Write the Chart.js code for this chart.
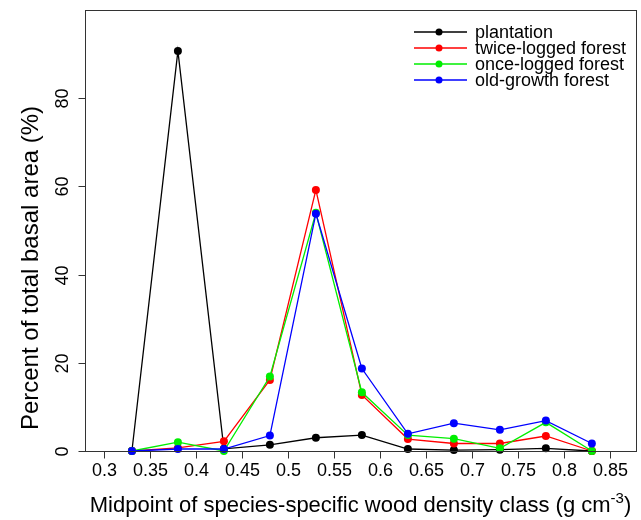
<!DOCTYPE html>
<html>
<head>
<meta charset="utf-8">
<script src="https://cdn.jsdelivr.net/npm/chart.js@4/dist/chart.umd.min.js"></script>
<style>
html,body{margin:0;padding:0;background:#fff;}
canvas{display:block;}
</style>
</head>
<body>
<canvas id="c" width="641" height="520"></canvas>
<script>
// ---- data ----
const densityClasses = [0.33, 0.38, 0.43, 0.48, 0.53, 0.58, 0.63, 0.68, 0.73, 0.78, 0.83];
const plantation   = [0, 90.7, 0.5, 1.4, 3.0, 3.6, 0.45, 0.2, 0.3, 0.6, 0];
const twiceLogged  = [0, 0.7, 2.2, 16.1, 59.2, 12.7, 2.7, 1.7, 1.7, 3.4, 0];
const onceLogged   = [0, 2.0, 0, 16.9, 54.0, 13.3, 3.6, 2.8, 0.6, 6.5, 0];
const oldGrowth    = [0, 0.45, 0.45, 3.5, 53.8, 18.7, 3.9, 6.3, 4.8, 6.9, 1.7];
const seriesNames  = ["plantation", "twice-logged forest", "once-logged forest", "old-growth forest"];
const seriesColors = ["#000000", "#ff0000", "#00ee00", "#0000ff"];
const xTickLabels  = ["0.3","0.35","0.4","0.45","0.5","0.55","0.6","0.65","0.7","0.75","0.8","0.85"];
const yTickLabels  = ["0","20","40","60","80"];
const xTitle = "Midpoint of species-specific wood density class (g cm";
const xTitleSup = "-3";
const yTitle = "Percent of total basal area (%)";

const allSeries = [plantation, twiceLogged, onceLogged, oldGrowth];
const datasets = allSeries.map((vals, i) => ({
  label: seriesNames[i],
  data: densityClasses.map((x, j) => ({x: x, y: vals[j]})),
  borderColor: seriesColors[i],
  backgroundColor: seriesColors[i],
  pointBackgroundColor: seriesColors[i],
  pointBorderColor: seriesColors[i],
  pointRadius: 4,
  pointBorderWidth: 0,
  borderWidth: 1.3,
  tension: 0,
  clip: false,
  order: 4 - i
}));

const FONT = '"Liberation Sans", Arial, sans-serif';

const decor = {
  id: 'decor',
  afterDraw(chart) {
    const ctx = chart.ctx;
    const a = chart.chartArea;
    const xs = chart.scales.x, ys = chart.scales.y;
    ctx.save();
    ctx.strokeStyle = '#333';
    ctx.lineWidth = 1;
    // box
    ctx.strokeRect(Math.round(a.left) + 0.5, Math.round(a.top) + 0.5,
                   Math.round(a.right - a.left), Math.round(a.bottom - a.top));
    const bottom = Math.round(a.bottom) + 0.5;
    const left = Math.round(a.left) + 0.5;
    // x ticks
    ctx.fillStyle = '#000';
    ctx.font = '18px ' + FONT;
    ctx.textAlign = 'center';
    ctx.textBaseline = 'alphabetic';
    xTickLabels.forEach(t => {
      const px = Math.round(xs.getPixelForValue(parseFloat(t))) + 0.5;
      ctx.beginPath(); ctx.moveTo(px, bottom); ctx.lineTo(px, bottom + 7); ctx.stroke();
      ctx.fillText(t, px, 476);
    });
    // y ticks
    yTickLabels.forEach(t => {
      const py = Math.round(ys.getPixelForValue(parseFloat(t))) + 0.5;
      ctx.beginPath(); ctx.moveTo(left, py); ctx.lineTo(left - 7, py); ctx.stroke();
      ctx.save();
      ctx.translate(68, py);
      ctx.rotate(-Math.PI / 2);
      ctx.fillText(t, 0, 0);
      ctx.restore();
    });
    // x title
    ctx.font = '22px ' + FONT;
    ctx.textAlign = 'left';
    const w1 = ctx.measureText(xTitle).width;
    ctx.font = '15px ' + FONT;
    const w2 = ctx.measureText(xTitleSup).width;
    ctx.font = '22px ' + FONT;
    const w3 = ctx.measureText(')').width;
    const total = w1 + w2 + w3;
    let sx = (a.left + a.right) / 2 - total / 2;
    const by = 512;
    ctx.fillText(xTitle, sx, by);
    ctx.font = '15px ' + FONT;
    ctx.fillText(xTitleSup, sx + w1, by - 9);
    ctx.font = '22px ' + FONT;
    ctx.fillText(')', sx + w1 + w2, by);
    // y title
    ctx.save();
    ctx.font = '24px ' + FONT;
    ctx.translate(38, 268);
    ctx.rotate(-Math.PI / 2);
    ctx.textAlign = 'center';
    ctx.fillText(yTitle, 0, 0);
    ctx.restore();
    // legend
    ctx.font = '18px ' + FONT;
    ctx.textAlign = 'left';
    ctx.textBaseline = 'middle';
    seriesNames.forEach((name, i) => {
      const y = 32 + i * 16;
      ctx.strokeStyle = seriesColors[i];
      ctx.lineWidth = 1.3;
      ctx.beginPath(); ctx.moveTo(414, y); ctx.lineTo(467, y); ctx.stroke();
      ctx.fillStyle = seriesColors[i];
      ctx.beginPath(); ctx.arc(439, y, 3.5, 0, Math.PI * 2); ctx.fill();
      ctx.fillStyle = '#000';
      ctx.fillText(name, 475, y + 1);
    });
    ctx.restore();
  }
};

new Chart(document.getElementById('c'), {
  type: 'line',
  data: { datasets: datasets },
  options: {
    responsive: false,
    animation: false,
    devicePixelRatio: 1,
    layout: { padding: { left: 85, top: 10, right: 5, bottom: 69 } },
    plugins: { legend: { display: false }, tooltip: { enabled: false } },
    scales: {
      x: { type: 'linear', display: false, min: 0.279, max: 0.878 },
      y: { type: 'linear', display: false, min: 0, max: 100 }
    }
  },
  plugins: [decor]
});
</script>
</body>
</html>
